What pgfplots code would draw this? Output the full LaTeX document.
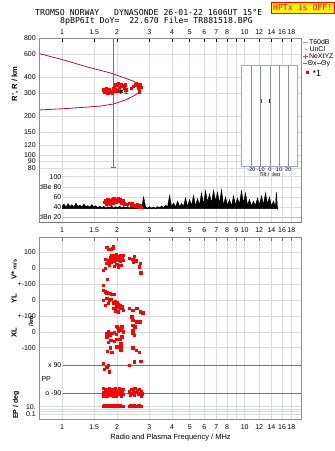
\documentclass[border=0pt]{standalone}
\usepackage{pgfplots}
\pgfplotsset{compat=1.18}
\usepackage{fontspec}
\setmainfont{Liberation Sans}
\newfontfamily\monof{DejaVu Sans Mono}
\definecolor{trace}{RGB}{165,25,70}
\definecolor{pinkl}{RGB}{232,55,120}
\definecolor{gridc}{RGB}{218,218,226}
\definecolor{framec}{RGB}{140,140,140}
\definecolor{darkl}{RGB}{115,115,115}
\definecolor{tiltc}{RGB}{165,165,195}
\definecolor{dbnblue}{RGB}{185,185,240}
\definecolor{redpt}{RGB}{255,0,0}
\begin{document}
\begin{tikzpicture}[x=1pt,y=1pt]
\useasboundingbox (0,0) rectangle (335,451);

% ---------------- top panel: virtual height ----------------
\begin{axis}[at={(39.3pt,279pt)}, anchor=south west, scale only axis, width=262.4pt, height=133.7pt, clip=false,
  xmode=log, xmin=0.751, xmax=20.5,
  ymode=log, ymin=74.5, ymax=800,
  axis line style={draw=none},
  xtick={1,1.5,2,3,4,5,6,7,8,9,10,12,14,16,18},
  xticklabels={1,1.5,2,3,4,5,6,7,8,,10,12,14,16,18},
  ytick={80,90,100,120,150,200,300,400,600,800},
  yticklabels={80,90,100,120,150,200,300,400,600,800},
  xmajorgrids, ymajorgrids, grid style={gridc, line width=0.6pt},
  tick label style={font=\fontsize{7}{8}\selectfont},
  ytick style={draw=none},
  xtick pos=right, xticklabel pos=right, tick align=inside, major tick length=3.5pt,
  xtick style={draw=black, line width=0.5pt},
]
\addplot[trace, line width=0.8pt] coordinates {
(0.751,610) (1.061,536) (1.365,482) (1.831,433) (2.166,399) (2.457,374) (2.617,354) (2.696,338)
(2.651,309) (2.509,291) (2.259,270) (1.910,249) (1.614,240) (1.061,230) (0.751,224)};
\addplot[pinkl, line width=1pt, mark=-, mark size=2.2pt, mark options={pinkl, line width=1pt}] coordinates {(1.91,80) (1.91,800)};
\addplot[redpt, only marks, mark=square*, mark size=1.1pt, mark options={draw=redpt, fill=redpt}] table {
f h
1.68 321
1.72 316
1.70 308
1.76 312
1.78 303
1.81 316
1.85 308
1.88 303
1.87 312
1.74 327
1.81 321
1.90 331
1.93 341
1.95 351
1.94 321
1.98 355
2.01 347
2.02 362
2.05 335
2.10 355
2.12 341
2.15 347
2.19 331
2.22 351
2.23 321
1.95 312
2.00 315
2.39 331
2.45 341
2.51 351
2.55 362
2.57 347
2.63 355
2.66 341
2.69 351
2.71 335
2.60 331
2.64 310
};
\addplot[black, only marks, mark=asterisk, mark size=2.6pt, mark options={black, line width=0.9pt}] coordinates {(2.10,312)};
\node[anchor=west, inner sep=0.6pt, font=\fontsize{8}{8}\selectfont] at (axis cs:2.16,310) {1};
\end{axis}

% ---------------- tilt inset ----------------
\begin{axis}[at={(241.7pt,284.3pt)}, anchor=south west, scale only axis, width=56pt, height=101.7pt,
  xmin=-30.6, xmax=30.3, ymin=0, ymax=1,
  axis background/.style={fill=white},
  axis line style={tiltc, line width=0.7pt},
  xtick={-20,-10,0,10,20}, xticklabels={-20,-10,0,10,20},
  xmajorgrids, grid style={tiltc!85!black, line width=0.5pt},
  ytick=\empty, xtick style={draw=none},
  tick label style={font=\fontsize{5.5}{6}\selectfont},
  xticklabel style={inner sep=0.5pt},
  xlabel={Tilt / deg}, xlabel style={font=\fontsize{5.5}{6}\selectfont, at={(axis description cs:0.5,0)}, anchor=center, yshift=-8pt, inner sep=0pt},
]
\addplot[red, only marks, mark=|, mark size=1.6pt, mark options={red, line width=0.9pt}] coordinates {(-9.5,0.646)};
\addplot[blue, only marks, mark=|, mark size=1.6pt, mark options={blue, line width=0.9pt}] coordinates {(-0.5,0.646)};
\end{axis}

% ---------------- dB panel ----------------
\begin{axis}[at={(39.3pt,229pt)}, anchor=south west, scale only axis, width=262.4pt, height=50pt,
  xmode=log, xmin=0.751, xmax=20.5,
  ymin=10.8, ymax=109.3, ytick=\empty,
  axis line style={draw=none},
  xtick={1,1.5,2,3,4,5,6,7,8,9,10,12,14,16,18},
  xticklabels={1,1.5,2,3,4,5,6,7,8,9,10,12,14,16,18},
  xmajorgrids, grid style={gridc, line width=0.6pt},
  tick label style={font=\fontsize{7}{8}\selectfont},
  xtick style={draw=none}, xticklabel style={yshift=-2pt},
]
\draw[gridc, line width=0.6pt] (axis cs:1,100) -- (axis cs:20.5,100);
\draw[gridc, line width=0.6pt] (axis cs:1,80) -- (axis cs:20.5,80);
\draw[gridc, line width=0.6pt] (axis cs:1,60) -- (axis cs:20.5,60);
\draw[gridc, line width=0.6pt] (axis cs:1,40) -- (axis cs:20.5,40);
\draw[dbnblue, line width=0.7pt] (axis cs:1,20) -- (axis cs:20.5,20);
\node[anchor=east, inner sep=0.5pt, font=\fontsize{7}{8}\selectfont] at (axis cs:1,100) {100};
\node[anchor=east, inner sep=0.5pt, font=\fontsize{7}{8}\selectfont] at (axis cs:1,80) {dBe 80};
\node[anchor=east, inner sep=0.5pt, font=\fontsize{7}{8}\selectfont] at (axis cs:1,60) {60};
\node[anchor=east, inner sep=0.5pt, font=\fontsize{7}{8}\selectfont] at (axis cs:1,40) {40};
\node[anchor=east, inner sep=0.5pt, font=\fontsize{7}{8}\selectfont] at (axis cs:1,20) {dBn 20};
\addplot[black, fill=black, line width=0.5pt] table {
f db
1.000 42
1.025 46
1.051 40
1.078 47
1.105 41
1.133 45
1.162 40
1.191 48
1.221 41
1.252 44
1.284 40
1.317 46
1.350 41
1.384 43
1.419 40
1.455 45
1.492 40
1.530 43
1.569 39
1.609 42
1.650 39
1.692 42
1.735 38
1.779 41
1.824 39
1.870 42
1.918 38
1.967 41
2.017 39
2.068 42
2.121 38
2.175 41
2.230 39
2.287 41
2.345 38
2.405 42
2.466 39
2.529 41
2.593 38
2.659 41
2.727 39
2.796 60
2.867 40
2.940 38
3.015 41
3.092 38
3.171 40
3.252 38
3.335 41
3.420 39
3.507 42
3.596 39
3.688 44
3.782 40
3.878 63
3.977 41
4.078 48
4.182 40
4.289 52
4.398 41
4.510 47
4.625 42
4.743 58
4.864 41
4.988 55
5.115 43
5.245 63
5.379 42
5.516 57
5.657 44
5.801 68
5.949 46
6.101 72
6.256 50
6.416 66
6.579 48
6.747 73
6.919 52
7.095 69
7.276 47
7.462 74
7.652 44
7.847 60
8.047 43
8.252 55
8.463 42
8.678 62
8.900 44
9.127 58
9.359 46
9.598 72
9.843 48
10.09 68
10.35 44
10.61 55
10.89 42
11.16 52
11.45 43
11.74 58
12.04 44
12.35 62
12.66 45
12.99 68
13.32 46
13.66 60
14.00 42
14.36 52
14.73 40
14.90 70
15.10 38
15.20 35
15.20 37
1.000 37
};
\addplot[redpt, only marks, mark=square*, mark size=1.1pt, mark options={draw=redpt, fill=redpt}] table {
f db
1.70 50
1.72 54
1.74 47
1.76 52
1.78 56
1.80 49
1.82 53
1.84 46
1.86 50
1.88 55
1.90 48
1.92 58
1.94 52
1.96 56
1.98 50
2.00 54
2.03 57
2.06 51
2.09 55
2.12 49
2.16 53
2.20 47
2.26 46
2.32 48
2.38 45
2.42 47
2.48 44
2.52 42
2.58 45
2.62 41
2.66 43
2.70 40
};
\end{axis}

% ---------------- bottom panel ----------------
\begin{axis}[at={(39.3pt,32pt)}, anchor=south west, scale only axis, width=262.4pt, height=182pt,
  xmode=log, xmin=0.751, xmax=20.5,
  ymin=0, ymax=182,
  axis line style={draw=none},
  xtick={1,1.5,2,3,4,5,6,7,8,9,10,12,14,16,18},
  xticklabels={1,1.5,2,3,4,5,6,7,8,,10,12,14,16,18},
  ytick={5,12.3,71.3,87,102.7,118.7,135,151,166.7},
  yticklabels={0.1,10.,-100,0,+-100,0,+-100,0,100},
  xmajorgrids, ymajorgrids, grid style={gridc, line width=0.6pt},
  tick label style={font=\fontsize{7}{8}\selectfont},
  ytick style={draw=none},
  xtick pos=right, tick align=inside, major tick length=3.5pt, xtick style={draw=darkl, line width=0.5pt},
  xticklabel pos=left, xticklabel style={yshift=-2pt},
]
\draw[gridc, line width=0.6pt] (axis cs:0.751,9.7) -- (axis cs:20.5,9.7);
\draw[gridc, line width=0.6pt] (axis cs:0.751,7.3) -- (axis cs:20.5,7.3);
\draw[darkl, line width=0.7pt] (axis cs:1.01,54) -- (axis cs:20.5,54);
\draw[darkl, line width=0.7pt] (axis cs:1.01,25.7) -- (axis cs:20.5,25.7);
\node[anchor=east, inner sep=0.5pt, font=\fontsize{7}{8}\selectfont] at (axis cs:1.0,54) {x 90};
\node[anchor=east, inner sep=0.5pt, font=\fontsize{7}{8}\selectfont] at (axis cs:1.0,25.7) {o -90};
\node[anchor=west, inner sep=0.5pt, font=\fontsize{7}{8}\selectfont] at (axis cs:0.766,40) {PP};
% V*
\addplot[redpt, only marks, mark=square*, mark size=1.1pt, mark options={draw=redpt, fill=redpt}] table[x=f, y expr=151+0.157*\thisrow{v}] {
f v
1.757 131
1.793 118
1.846 118
1.894 128
1.907 139
1.869 82
1.924 82
1.976 89
2.033 76
2.096 82
2.148 82
1.831 68
1.869 61
1.950 72
2.033 68
2.122 61
1.719 55
1.793 46
1.846 40
1.924 46
1.993 51
2.078 46
2.164 51
1.757 30
1.815 19
1.924 13
1.993 25
2.096 19
2.033 8
1.683 -13
1.719 -2
2.334 61
2.436 55
2.477 76
2.455 40
2.540 46
2.673 30
2.696 -30
2.645 8
1.770 -72
};
% YL
\addplot[redpt, only marks, mark=square*, mark size=1.1pt, mark options={draw=redpt, fill=redpt}] table[x=f, y expr=118.7+0.16*\thisrow{yl}] {
f yl
1.683 96
1.683 64
1.719 54
1.757 47
1.831 44
1.869 39
1.924 38
1.683 3
1.757 12
1.815 0
1.846 6
1.907 -15
1.950 -9
1.993 -15
2.033 -23
2.078 -29
2.122 -40
1.993 -40
1.907 -50
2.078 -50
2.164 -61
1.950 -65
2.033 -71
2.334 -50
2.436 -61
2.564 -50
2.673 -71
2.762 -77
1.719 -29
1.793 -19
};
% XL
\addplot[redpt, only marks, mark=square*, mark size=1.1pt, mark options={draw=redpt, fill=redpt}] table[x=f, y expr=87+0.157*\thisrow{xl}] {
f xl
1.976 38
2.033 24
2.122 30
2.405 97
2.436 76
2.564 66
2.673 66
2.436 45
2.477 30
1.757 -8
1.793 2
1.757 -30
1.831 -19
1.869 -8
1.924 -2
1.976 -15
2.033 6
2.096 13
2.122 34
2.012 34
2.164 2
2.122 -30
2.078 -45
1.846 -51
1.793 -66
1.924 -57
1.993 -45
2.096 -72
2.096 -94
2.096 -115
1.993 -94
1.831 -100
1.770 -121
1.869 -129
2.436 -8
2.477 -19
2.436 13
2.509 34
2.436 -100
2.540 -115
2.645 -129
};
% PP
\addplot[redpt, only marks, mark=square*, mark size=1.1pt, mark options={draw=redpt, fill=redpt}] table[x=f, y expr=39.85+0.1572*\thisrow{pp}] {
f pp
1.683 101
1.793 90
1.815 47
1.698 63
1.757 75
2.334 90
2.477 111
2.696 115
1.683 -60
1.683 -85
1.683 -105
1.72 -75
1.72 -98
1.757 -62
1.757 -88
1.757 -108
1.79 -80
1.79 -95
1.82 -58
1.82 -85
1.846 -72
1.846 -100
1.869 -90
1.88 -65
1.90 -80
1.90 -110
1.924 -70
1.924 -95
1.95 -85
1.95 -60
1.976 -78
1.976 -105
1.993 -88
2.01 -68
2.03 -95
2.05 -80
2.06 -58
2.08 -90
2.10 -72
2.10 -105
2.12 -85
2.15 -65
2.15 -98
2.33 -80
2.36 -100
2.40 -62
2.42 -88
2.45 -75
2.48 -102
2.50 -58
2.55 -85
2.58 -70
2.60 -95
2.64 -62
2.66 -88
2.70 -78
2.72 -105
2.76 -92
};
% EP
\addplot[redpt, only marks, mark=square*, mark size=1.1pt, mark options={draw=redpt, fill=redpt}] table[x=f, y expr=12.3+3.65*(log10(\thisrow{ep})-1)] {
f ep
1.683 14
1.70 18
1.72 13
1.74 16
1.757 24
1.77 14
1.79 17
1.81 13
1.83 22
1.85 15
1.87 28
1.89 14
1.91 17
1.93 13
1.95 20
1.97 15
1.99 26
2.01 14
2.03 17
2.05 13
2.07 22
2.09 15
2.11 17
2.13 13
2.15 16
2.17 14
2.33 15
2.36 18
2.39 13
2.42 24
2.45 14
2.48 19
2.51 15
2.54 13
2.57 17
2.60 14
2.63 22
2.66 15
2.69 13
2.72 16
};
\end{axis}

% ---------------- frames ----------------
\draw[framec, line width=0.6pt] (39.3,229) -- (39.3,412.7) -- (301.7,412.7) -- (301.7,229);
\draw[darkl, line width=0.7pt] (39.3,229) -- (301.7,229);
\draw[framec, line width=0.6pt] (39.3,32) rectangle (301.7,214);

% ---------------- titles ----------------
\node[anchor=base west, inner sep=0, font=\monof\fontsize{8.2}{9}\selectfont] at (35,435.7) {TROMSO NORWAY\ \ \ DYNASONDE 26-01-22 1606UT 15°E};
\node[anchor=base west, inner sep=0, font=\monof\fontsize{8.2}{9}\selectfont] at (60,427.7) {8pBP6It DoY=\ \ 22.670 File= TR881518.BPG};
\node[anchor=north east, inner sep=0, fill=yellow, draw=red, line width=0.6pt, minimum width=62.6pt, minimum height=11pt, text=red, font=\monof\fontsize{8.2}{9}\selectfont] at (334.3,449.3) {HPTx is OFF!};

% ---------------- axis labels ----------------
\node[rotate=90, font=\bfseries\fontsize{7.5}{8}\selectfont] at (15,367) {R', R / km};
\node[rotate=90, font=\bfseries\fontsize{7.5}{8}\selectfont] at (14,181.5) {V* {\fontsize{5.5}{6}\selectfont m/s}};
\node[rotate=90, font=\bfseries\fontsize{7.5}{8}\selectfont] at (14,152) {YL};
\node[rotate=90, font=\bfseries\fontsize{6}{7}\selectfont] at (31,130) {/km};
\node[rotate=90, font=\bfseries\fontsize{7.5}{8}\selectfont] at (14,118.5) {XL};
\node[rotate=90, font=\bfseries\fontsize{7}{8}\selectfont] at (16,46) {EP / deg};
\node[font=\fontsize{7.5}{8}\selectfont] at (170.5,13) {Radio and Plasma Frequency / MHz};

% ---------------- legend ----------------
\draw[gray!70, line width=0.8pt] (303.3,408.7) -- (308.3,408.7);
\node[anchor=west, inner sep=0, font=\fontsize{7}{8}\selectfont] at (308.8,408.7) {T60dB};
\fill[black] (306,401.7) circle (0.55);
\node[anchor=west, inner sep=0, font=\fontsize{7}{8}\selectfont] at (309.3,401.7) {UnCl};
\draw[pinkl, line width=0.7pt] (303,394.7) -- (308,394.7) (305.5,392.2) -- (305.5,397.2);
\node[anchor=west, inner sep=0, font=\fontsize{7}{8}\selectfont] at (308.8,394.7) {NeXtYZ};
\draw[pinkl, line width=0.7pt] (303.3,387.7) -- (307.3,387.7);
\node[anchor=west, inner sep=0, font=\fontsize{7}{8}\selectfont] at (307.5,387.7) {Θx};
\draw[blue!70, line width=0.7pt] (316.7,387.7) -- (320.7,387.7);
\node[anchor=west, inner sep=0, font=\fontsize{7}{8}\selectfont] at (321,387.7) {Θy};
\fill[redpt] (305.9,377) rectangle (308.7,379.8);
\node[anchor=west, inner sep=0, font=\fontsize{9}{9}\selectfont] at (312.5,378) {*1};
\end{tikzpicture}
\end{document}
